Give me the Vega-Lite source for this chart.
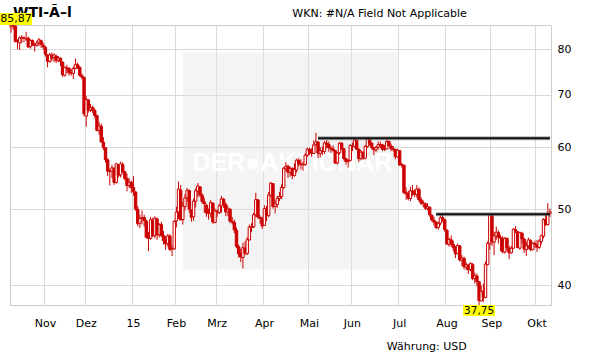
{
"$schema":"https://vega.github.io/schema/vega-lite/v6.json",
"width":541,"height":280,
"autosize":{"type":"none"},
"padding":{"left":10,"top":25,"right":60,"bottom":59},
"background":"white",
"config":{"font":"DejaVu Sans","view":{"stroke":"#cccccc","strokeWidth":1}},
"datasets":{
"p":[
{"d":"2014-10-10","o":85.35,"h":85.87,"l":83.95,"c":85.82},
{"d":"2014-10-13","o":85.70,"h":85.85,"l":84.70,"c":85.74},
{"d":"2014-10-14","o":85.60,"h":85.70,"l":81.57,"c":81.84},
{"d":"2014-10-15","o":81.80,"h":82.30,"l":80.01,"c":81.78},
{"d":"2014-10-16","o":81.50,"h":83.10,"l":79.78,"c":82.70},
{"d":"2014-10-17","o":82.60,"h":83.40,"l":81.40,"c":82.75},
{"d":"2014-10-20","o":82.70,"h":83.00,"l":81.60,"c":82.71},
{"d":"2014-10-21","o":82.50,"h":84.20,"l":81.90,"c":82.49},
{"d":"2014-10-22","o":82.60,"h":83.00,"l":80.30,"c":80.52},
{"d":"2014-10-23","o":80.60,"h":82.40,"l":80.10,"c":82.09},
{"d":"2014-10-24","o":82.00,"h":82.30,"l":80.70,"c":81.01},
{"d":"2014-10-27","o":80.90,"h":81.50,"l":79.44,"c":81.00},
{"d":"2014-10-28","o":80.90,"h":82.00,"l":80.60,"c":81.42},
{"d":"2014-10-29","o":81.50,"h":82.68,"l":80.70,"c":82.20},
{"d":"2014-10-30","o":82.00,"h":82.30,"l":80.30,"c":81.12},
{"d":"2014-10-31","o":80.90,"h":81.50,"l":79.90,"c":80.54},
{"d":"2014-11-03","o":80.40,"h":80.80,"l":78.30,"c":78.78},
{"d":"2014-11-04","o":78.60,"h":78.80,"l":75.84,"c":77.19},
{"d":"2014-11-05","o":77.20,"h":79.10,"l":76.80,"c":78.68},
{"d":"2014-11-06","o":78.60,"h":79.20,"l":77.20,"c":77.91},
{"d":"2014-11-07","o":78.00,"h":79.00,"l":77.00,"c":78.65},
{"d":"2014-11-10","o":78.40,"h":78.70,"l":76.80,"c":77.40},
{"d":"2014-11-11","o":77.40,"h":78.40,"l":77.00,"c":77.94},
{"d":"2014-11-12","o":77.90,"h":78.10,"l":76.10,"c":77.18},
{"d":"2014-11-13","o":77.00,"h":77.20,"l":73.75,"c":74.21},
{"d":"2014-11-14","o":74.10,"h":76.00,"l":73.80,"c":75.82},
{"d":"2014-11-17","o":75.70,"h":76.40,"l":74.60,"c":75.64},
{"d":"2014-11-18","o":75.60,"h":75.90,"l":74.00,"c":74.61},
{"d":"2014-11-19","o":74.60,"h":75.50,"l":74.00,"c":74.58},
{"d":"2014-11-20","o":74.50,"h":76.00,"l":73.25,"c":75.58},
{"d":"2014-11-21","o":75.60,"h":77.83,"l":75.40,"c":76.51},
{"d":"2014-11-24","o":76.40,"h":76.90,"l":75.50,"c":75.78},
{"d":"2014-11-25","o":75.80,"h":76.20,"l":73.80,"c":74.09},
{"d":"2014-11-26","o":74.00,"h":74.50,"l":73.25,"c":73.69},
{"d":"2014-11-28","o":73.60,"h":73.80,"l":65.69,"c":66.15},
{"d":"2014-12-01","o":65.70,"h":69.70,"l":63.72,"c":69.00},
{"d":"2014-12-02","o":68.90,"h":69.10,"l":66.40,"c":66.88},
{"d":"2014-12-03","o":66.90,"h":68.10,"l":66.50,"c":67.38},
{"d":"2014-12-04","o":67.40,"h":67.80,"l":66.30,"c":66.81},
{"d":"2014-12-05","o":66.80,"h":67.20,"l":65.30,"c":65.84},
{"d":"2014-12-08","o":65.80,"h":66.00,"l":62.82,"c":63.05},
{"d":"2014-12-09","o":63.00,"h":64.60,"l":62.20,"c":63.82},
{"d":"2014-12-10","o":63.80,"h":64.30,"l":60.78,"c":60.94},
{"d":"2014-12-11","o":60.90,"h":61.80,"l":59.50,"c":59.95},
{"d":"2014-12-12","o":59.90,"h":60.00,"l":57.34,"c":57.81},
{"d":"2014-12-15","o":57.80,"h":58.10,"l":55.12,"c":55.91},
{"d":"2014-12-16","o":55.90,"h":56.30,"l":53.60,"c":55.93},
{"d":"2014-12-17","o":55.90,"h":57.00,"l":54.80,"c":56.47},
{"d":"2014-12-18","o":56.40,"h":56.50,"l":53.70,"c":54.11},
{"d":"2014-12-19","o":54.10,"h":57.30,"l":53.90,"c":57.13},
{"d":"2014-12-22","o":56.90,"h":57.10,"l":54.90,"c":55.26},
{"d":"2014-12-23","o":55.30,"h":57.50,"l":54.90,"c":57.12},
{"d":"2014-12-24","o":57.00,"h":57.40,"l":55.60,"c":55.84},
{"d":"2014-12-26","o":55.80,"h":56.00,"l":54.40,"c":54.73},
{"d":"2014-12-29","o":54.70,"h":55.50,"l":52.70,"c":53.61},
{"d":"2014-12-30","o":53.60,"h":54.80,"l":53.20,"c":54.12},
{"d":"2014-12-31","o":54.10,"h":54.40,"l":52.44,"c":53.27},
{"d":"2015-01-02","o":53.30,"h":55.10,"l":52.03,"c":52.69},
{"d":"2015-01-05","o":52.60,"h":52.70,"l":49.77,"c":50.04},
{"d":"2015-01-06","o":50.00,"h":50.50,"l":47.55,"c":47.93},
{"d":"2015-01-07","o":48.00,"h":49.20,"l":47.30,"c":48.65},
{"d":"2015-01-08","o":48.70,"h":49.80,"l":47.80,"c":48.79},
{"d":"2015-01-09","o":48.80,"h":49.20,"l":47.50,"c":48.36},
{"d":"2015-01-12","o":48.30,"h":48.50,"l":45.87,"c":46.07},
{"d":"2015-01-13","o":46.10,"h":46.80,"l":44.20,"c":45.89},
{"d":"2015-01-14","o":45.90,"h":48.90,"l":45.70,"c":48.48},
{"d":"2015-01-15","o":48.40,"h":48.80,"l":46.10,"c":46.25},
{"d":"2015-01-16","o":46.30,"h":49.00,"l":45.90,"c":48.69},
{"d":"2015-01-20","o":48.60,"h":48.80,"l":45.70,"c":46.39},
{"d":"2015-01-21","o":46.40,"h":48.00,"l":46.00,"c":47.78},
{"d":"2015-01-22","o":47.80,"h":48.20,"l":46.10,"c":46.31},
{"d":"2015-01-23","o":46.30,"h":46.90,"l":45.10,"c":45.59},
{"d":"2015-01-26","o":45.60,"h":46.20,"l":44.40,"c":45.15},
{"d":"2015-01-27","o":45.20,"h":46.50,"l":44.80,"c":46.23},
{"d":"2015-01-28","o":46.20,"h":46.50,"l":44.20,"c":44.45},
{"d":"2015-01-29","o":44.50,"h":45.00,"l":43.58,"c":44.53},
{"d":"2015-01-30","o":44.50,"h":48.40,"l":44.40,"c":48.24},
{"d":"2015-02-02","o":48.30,"h":50.40,"l":47.40,"c":49.57},
{"d":"2015-02-03","o":49.60,"h":54.24,"l":48.60,"c":53.05},
{"d":"2015-02-04","o":52.90,"h":53.70,"l":48.40,"c":48.45},
{"d":"2015-02-05","o":48.50,"h":51.10,"l":47.80,"c":50.48},
{"d":"2015-02-06","o":50.40,"h":52.30,"l":49.80,"c":51.69},
{"d":"2015-02-09","o":51.70,"h":53.20,"l":51.10,"c":52.86},
{"d":"2015-02-10","o":52.80,"h":53.00,"l":49.50,"c":50.02},
{"d":"2015-02-11","o":49.90,"h":50.00,"l":48.20,"c":48.84},
{"d":"2015-02-12","o":48.90,"h":51.60,"l":48.30,"c":51.21},
{"d":"2015-02-13","o":51.20,"h":53.20,"l":50.30,"c":52.78},
{"d":"2015-02-17","o":52.70,"h":54.00,"l":51.80,"c":53.53},
{"d":"2015-02-18","o":53.40,"h":53.50,"l":51.80,"c":52.14},
{"d":"2015-02-19","o":52.10,"h":52.40,"l":50.80,"c":51.16},
{"d":"2015-02-20","o":51.10,"h":51.70,"l":49.50,"c":50.81},
{"d":"2015-02-23","o":50.60,"h":50.80,"l":48.90,"c":49.45},
{"d":"2015-02-24","o":49.40,"h":50.10,"l":48.50,"c":49.45},
{"d":"2015-02-25","o":49.40,"h":51.40,"l":48.80,"c":50.99},
{"d":"2015-02-26","o":50.90,"h":51.00,"l":47.90,"c":48.17},
{"d":"2015-02-27","o":48.10,"h":50.10,"l":48.00,"c":49.76},
{"d":"2015-03-02","o":49.70,"h":50.00,"l":48.90,"c":49.59},
{"d":"2015-03-03","o":49.50,"h":50.80,"l":49.30,"c":50.52},
{"d":"2015-03-04","o":50.50,"h":52.00,"l":49.50,"c":51.53},
{"d":"2015-03-05","o":51.50,"h":51.70,"l":50.20,"c":50.76},
{"d":"2015-03-06","o":50.70,"h":51.00,"l":49.00,"c":49.61},
{"d":"2015-03-09","o":49.60,"h":50.50,"l":49.00,"c":50.00},
{"d":"2015-03-10","o":50.00,"h":50.20,"l":48.00,"c":48.29},
{"d":"2015-03-11","o":48.20,"h":48.90,"l":47.80,"c":48.17},
{"d":"2015-03-12","o":48.10,"h":48.50,"l":46.60,"c":47.05},
{"d":"2015-03-13","o":47.00,"h":47.40,"l":44.60,"c":44.84},
{"d":"2015-03-16","o":44.80,"h":45.10,"l":43.40,"c":43.88},
{"d":"2015-03-17","o":43.90,"h":44.50,"l":42.80,"c":43.46},
{"d":"2015-03-18","o":43.40,"h":45.30,"l":42.03,"c":44.66},
{"d":"2015-03-19","o":44.60,"h":45.50,"l":43.70,"c":43.96},
{"d":"2015-03-20","o":43.90,"h":46.10,"l":43.70,"c":45.72},
{"d":"2015-03-23","o":45.70,"h":47.80,"l":45.60,"c":47.45},
{"d":"2015-03-24","o":47.40,"h":48.00,"l":46.80,"c":47.51},
{"d":"2015-03-25","o":47.50,"h":49.50,"l":47.30,"c":49.21},
{"d":"2015-03-26","o":49.20,"h":52.48,"l":48.90,"c":51.43},
{"d":"2015-03-27","o":51.40,"h":51.50,"l":48.60,"c":48.87},
{"d":"2015-03-30","o":48.80,"h":49.10,"l":47.90,"c":48.68},
{"d":"2015-03-31","o":48.60,"h":48.90,"l":47.20,"c":47.60},
{"d":"2015-04-01","o":47.70,"h":50.60,"l":47.60,"c":50.09},
{"d":"2015-04-02","o":50.00,"h":50.50,"l":48.30,"c":49.14},
{"d":"2015-04-06","o":49.10,"h":52.60,"l":48.80,"c":52.14},
{"d":"2015-04-07","o":52.10,"h":54.18,"l":51.80,"c":53.98},
{"d":"2015-04-08","o":53.90,"h":53.90,"l":50.10,"c":50.42},
{"d":"2015-04-09","o":50.40,"h":51.30,"l":49.40,"c":50.79},
{"d":"2015-04-10","o":50.70,"h":52.00,"l":50.20,"c":51.64},
{"d":"2015-04-13","o":51.60,"h":52.60,"l":51.20,"c":51.91},
{"d":"2015-04-14","o":51.90,"h":53.80,"l":51.50,"c":53.29},
{"d":"2015-04-15","o":53.30,"h":56.60,"l":53.10,"c":56.39},
{"d":"2015-04-16","o":56.30,"h":57.42,"l":55.90,"c":56.71},
{"d":"2015-04-17","o":56.70,"h":57.00,"l":54.80,"c":55.74},
{"d":"2015-04-20","o":55.70,"h":56.70,"l":55.00,"c":56.38},
{"d":"2015-04-21","o":56.40,"h":56.50,"l":54.60,"c":55.26},
{"d":"2015-04-22","o":55.20,"h":57.20,"l":55.00,"c":56.16},
{"d":"2015-04-23","o":56.10,"h":58.00,"l":55.70,"c":57.74},
{"d":"2015-04-24","o":57.70,"h":58.10,"l":56.70,"c":57.15},
{"d":"2015-04-27","o":57.10,"h":57.90,"l":56.20,"c":56.99},
{"d":"2015-04-28","o":57.00,"h":57.50,"l":56.00,"c":57.06},
{"d":"2015-04-29","o":57.00,"h":58.95,"l":56.80,"c":58.58},
{"d":"2015-04-30","o":58.60,"h":59.90,"l":58.30,"c":59.63},
{"d":"2015-05-01","o":59.60,"h":59.90,"l":58.60,"c":59.15},
{"d":"2015-05-04","o":59.10,"h":59.80,"l":58.30,"c":58.93},
{"d":"2015-05-05","o":58.90,"h":61.20,"l":58.80,"c":60.40},
{"d":"2015-05-06","o":60.40,"h":62.58,"l":60.30,"c":60.93},
{"d":"2015-05-07","o":60.90,"h":61.10,"l":58.10,"c":58.94},
{"d":"2015-05-08","o":58.90,"h":60.00,"l":58.20,"c":59.39},
{"d":"2015-05-11","o":59.30,"h":60.10,"l":58.60,"c":59.25},
{"d":"2015-05-12","o":59.20,"h":61.10,"l":58.80,"c":60.75},
{"d":"2015-05-13","o":60.70,"h":61.30,"l":59.80,"c":60.50},
{"d":"2015-05-14","o":60.50,"h":61.00,"l":59.20,"c":59.88},
{"d":"2015-05-15","o":59.80,"h":60.20,"l":59.00,"c":59.69},
{"d":"2015-05-18","o":59.70,"h":60.30,"l":59.20,"c":59.43},
{"d":"2015-05-19","o":59.40,"h":59.50,"l":57.10,"c":57.26},
{"d":"2015-05-20","o":57.30,"h":59.10,"l":57.00,"c":58.98},
{"d":"2015-05-21","o":59.00,"h":60.90,"l":58.70,"c":60.72},
{"d":"2015-05-22","o":60.70,"h":60.80,"l":59.50,"c":59.72},
{"d":"2015-05-26","o":59.70,"h":59.80,"l":57.70,"c":58.03},
{"d":"2015-05-27","o":58.00,"h":58.10,"l":57.00,"c":57.51},
{"d":"2015-05-28","o":57.50,"h":57.90,"l":56.51,"c":57.68},
{"d":"2015-05-29","o":57.70,"h":60.50,"l":57.60,"c":60.30},
{"d":"2015-06-01","o":60.20,"h":60.80,"l":59.30,"c":60.20},
{"d":"2015-06-02","o":60.10,"h":61.70,"l":59.90,"c":61.26},
{"d":"2015-06-03","o":61.20,"h":61.40,"l":59.50,"c":59.64},
{"d":"2015-06-04","o":59.60,"h":59.80,"l":57.43,"c":58.00},
{"d":"2015-06-05","o":58.00,"h":59.50,"l":57.70,"c":59.13},
{"d":"2015-06-08","o":59.10,"h":59.30,"l":57.80,"c":58.14},
{"d":"2015-06-09","o":58.10,"h":60.40,"l":57.90,"c":60.14},
{"d":"2015-06-10","o":60.10,"h":61.60,"l":59.90,"c":61.43},
{"d":"2015-06-11","o":61.40,"h":61.60,"l":60.30,"c":60.77},
{"d":"2015-06-12","o":60.70,"h":60.90,"l":59.60,"c":59.96},
{"d":"2015-06-15","o":59.90,"h":60.00,"l":58.60,"c":59.52},
{"d":"2015-06-16","o":59.50,"h":60.20,"l":59.10,"c":59.97},
{"d":"2015-06-17","o":60.00,"h":61.00,"l":59.60,"c":60.43},
{"d":"2015-06-18","o":60.40,"h":61.00,"l":59.80,"c":60.45},
{"d":"2015-06-19","o":60.40,"h":60.60,"l":59.30,"c":59.61},
{"d":"2015-06-22","o":59.60,"h":60.40,"l":59.30,"c":59.68},
{"d":"2015-06-23","o":59.70,"h":61.54,"l":59.60,"c":61.01},
{"d":"2015-06-24","o":61.00,"h":61.20,"l":60.10,"c":60.27},
{"d":"2015-06-25","o":60.20,"h":60.60,"l":59.30,"c":59.70},
{"d":"2015-06-26","o":59.70,"h":60.20,"l":59.20,"c":59.63},
{"d":"2015-06-29","o":59.60,"h":59.70,"l":57.90,"c":58.33},
{"d":"2015-06-30","o":58.30,"h":59.69,"l":58.20,"c":59.47},
{"d":"2015-07-01","o":59.40,"h":59.50,"l":56.80,"c":56.96},
{"d":"2015-07-02","o":57.00,"h":57.30,"l":56.50,"c":56.93},
{"d":"2015-07-06","o":56.90,"h":57.00,"l":52.25,"c":52.53},
{"d":"2015-07-07","o":52.50,"h":53.30,"l":51.40,"c":52.33},
{"d":"2015-07-08","o":52.30,"h":52.80,"l":51.30,"c":51.65},
{"d":"2015-07-09","o":51.60,"h":53.40,"l":51.20,"c":52.78},
{"d":"2015-07-10","o":52.70,"h":53.70,"l":52.00,"c":52.74},
{"d":"2015-07-13","o":52.70,"h":53.00,"l":51.80,"c":52.20},
{"d":"2015-07-14","o":52.20,"h":53.70,"l":51.70,"c":53.04},
{"d":"2015-07-15","o":53.00,"h":53.30,"l":51.10,"c":51.41},
{"d":"2015-07-16","o":51.40,"h":51.80,"l":50.60,"c":50.91},
{"d":"2015-07-17","o":50.90,"h":51.30,"l":50.30,"c":50.89},
{"d":"2015-07-20","o":50.80,"h":51.00,"l":49.90,"c":50.15},
{"d":"2015-07-21","o":50.10,"h":50.90,"l":49.80,"c":50.36},
{"d":"2015-07-22","o":50.30,"h":50.40,"l":48.90,"c":49.19},
{"d":"2015-07-23","o":49.10,"h":49.30,"l":48.20,"c":48.45},
{"d":"2015-07-24","o":48.40,"h":48.90,"l":47.70,"c":48.14},
{"d":"2015-07-27","o":48.10,"h":48.30,"l":47.20,"c":47.39},
{"d":"2015-07-28","o":47.40,"h":48.20,"l":47.10,"c":47.98},
{"d":"2015-07-29","o":48.00,"h":49.20,"l":47.70,"c":48.79},
{"d":"2015-07-30","o":48.80,"h":49.25,"l":48.20,"c":48.52},
{"d":"2015-07-31","o":48.50,"h":48.60,"l":46.80,"c":47.12},
{"d":"2015-08-03","o":47.00,"h":47.20,"l":45.00,"c":45.17},
{"d":"2015-08-04","o":45.10,"h":46.00,"l":44.80,"c":45.74},
{"d":"2015-08-05","o":45.70,"h":46.30,"l":44.80,"c":45.15},
{"d":"2015-08-06","o":45.10,"h":45.60,"l":44.20,"c":44.66},
{"d":"2015-08-07","o":44.60,"h":44.90,"l":43.33,"c":43.87},
{"d":"2015-08-10","o":43.90,"h":45.20,"l":43.80,"c":44.96},
{"d":"2015-08-11","o":44.90,"h":45.00,"l":42.90,"c":43.08},
{"d":"2015-08-12","o":43.00,"h":43.70,"l":42.31,"c":43.30},
{"d":"2015-08-13","o":43.30,"h":43.50,"l":41.90,"c":42.23},
{"d":"2015-08-14","o":42.20,"h":42.80,"l":41.80,"c":42.50},
{"d":"2015-08-17","o":42.40,"h":42.60,"l":41.35,"c":41.87},
{"d":"2015-08-18","o":41.90,"h":42.80,"l":41.70,"c":42.62},
{"d":"2015-08-19","o":42.50,"h":42.70,"l":40.60,"c":40.80},
{"d":"2015-08-20","o":40.80,"h":41.50,"l":40.20,"c":41.14},
{"d":"2015-08-21","o":41.10,"h":41.40,"l":39.86,"c":40.45},
{"d":"2015-08-24","o":40.40,"h":40.50,"l":37.75,"c":38.24},
{"d":"2015-08-25","o":38.20,"h":40.00,"l":38.20,"c":39.31},
{"d":"2015-08-26","o":39.30,"h":40.20,"l":38.10,"c":38.60},
{"d":"2015-08-27","o":38.60,"h":42.90,"l":38.50,"c":42.56},
{"d":"2015-08-28","o":42.50,"h":45.50,"l":42.40,"c":45.22},
{"d":"2015-08-31","o":45.20,"h":49.27,"l":44.40,"c":49.20},
{"d":"2015-09-01","o":49.10,"h":49.10,"l":44.90,"c":45.41},
{"d":"2015-09-02","o":45.40,"h":46.80,"l":43.70,"c":46.25},
{"d":"2015-09-03","o":46.20,"h":47.50,"l":45.70,"c":46.75},
{"d":"2015-09-04","o":46.70,"h":47.00,"l":45.20,"c":46.05},
{"d":"2015-09-08","o":46.00,"h":46.40,"l":44.20,"c":45.94},
{"d":"2015-09-09","o":45.90,"h":46.20,"l":43.90,"c":44.15},
{"d":"2015-09-10","o":44.10,"h":46.10,"l":43.90,"c":45.92},
{"d":"2015-09-11","o":45.90,"h":46.00,"l":44.20,"c":44.63},
{"d":"2015-09-14","o":44.60,"h":44.90,"l":43.20,"c":44.00},
{"d":"2015-09-15","o":44.00,"h":44.90,"l":43.90,"c":44.59},
{"d":"2015-09-16","o":44.60,"h":47.30,"l":44.50,"c":47.15},
{"d":"2015-09-17","o":47.10,"h":47.60,"l":46.60,"c":46.90},
{"d":"2015-09-18","o":46.80,"h":46.90,"l":44.60,"c":44.68},
{"d":"2015-09-21","o":44.60,"h":46.80,"l":44.40,"c":46.68},
{"d":"2015-09-22","o":46.60,"h":46.80,"l":45.20,"c":45.83},
{"d":"2015-09-23","o":45.80,"h":46.00,"l":44.00,"c":44.48},
{"d":"2015-09-24","o":44.40,"h":45.40,"l":43.60,"c":44.91},
{"d":"2015-09-25","o":44.90,"h":46.00,"l":44.50,"c":45.70},
{"d":"2015-09-28","o":45.60,"h":45.80,"l":44.20,"c":44.43},
{"d":"2015-09-29","o":44.40,"h":45.40,"l":44.30,"c":45.23},
{"d":"2015-09-30","o":45.20,"h":45.60,"l":44.60,"c":45.09},
{"d":"2015-10-01","o":45.00,"h":45.70,"l":44.10,"c":44.74},
{"d":"2015-10-02","o":44.70,"h":45.80,"l":44.50,"c":45.54},
{"d":"2015-10-05","o":45.50,"h":46.40,"l":45.10,"c":46.26},
{"d":"2015-10-06","o":46.20,"h":48.70,"l":45.90,"c":48.53},
{"d":"2015-10-07","o":48.50,"h":49.40,"l":47.60,"c":47.81},
{"d":"2015-10-08","o":47.80,"h":50.90,"l":47.70,"c":49.43},
{"d":"2015-10-09","o":49.40,"h":50.10,"l":48.90,"c":49.63}
],
"wm":[{"d":"2015-02-05","t":79.2,"b":41.87},{"d":"2015-06-30","t":79.2,"b":41.87}],
"wmt":[{"d":"2015-04-21","v":57.3,"t":"DER●AKTIONÄR"}],
"res":[{"d":"2015-05-07","v":61.57,"g":"a"},{"d":"2015-10-09","v":61.57,"g":"a"},{"d":"2015-07-27","v":49.28,"g":"b"},{"d":"2015-10-09","v":49.28,"g":"b"}],
"ttl":[{"d":"2014-10-10","v":85.87,"t":"WTI-Ã–l"}],
"wkn":[{"d":"2015-04-21","v":85.87,"t":"WKN: #N/A Field Not Applicable"}],
"cur":[{"d":"2015-06-23","v":37.75,"t":"Währung: USD"}],
"hi":[{"d":"2014-10-10","v":85.87,"t":"85,87"}],
"lo":[{"d":"2015-08-24","v":37.75,"t":"37,75"}]
},
"layer":[
{"data":{"name":"wm"},
 "mark":{"type":"area","color":"#e6e6e6","opacity":0.45},
 "encoding":{
  "x":{"field":"d","type":"ordinal","title":null,"scale":{"type":"band","paddingInner":0,"paddingOuter":0},
   "axis":{"values":["2014-11-03","2014-12-01","2015-01-02","2015-02-02","2015-03-02","2015-04-01","2015-05-01","2015-06-01","2015-07-01","2015-08-03","2015-09-01","2015-10-01"],
    "labelExpr":"['','15','Feb','Mrz','Apr','Mai','Jun','Jul','Aug','Sep','Okt','Nov','Dez'][toNumber(slice(datum.value,5,7))]",
    "bandPosition":0,"grid":true,"gridColor":"#d9d9d9","ticks":false,"domain":false,"labelAngle":0,
    "labelPadding":12,"labelFontSize":11,"labelColor":"#000000","labelFont":"DejaVu Sans","title":null}},
  "y":{"field":"t","type":"quantitative","title":null,"scale":{"type":"log","domain":[37.75,85.87],"nice":false,"zero":false},
   "axis":{"orient":"right","values":[40,50,60,70,80],"format":"d","grid":true,"gridColor":"#d9d9d9","ticks":false,"domain":false,
    "labelPadding":6,"labelFontSize":11,"labelColor":"#000000","labelFont":"DejaVu Sans","title":null}},
  "y2":{"field":"b"}}},
{"data":{"name":"wmt"},
 "mark":{"type":"text","font":"Liberation Sans","fontWeight":"bold","fontSize":25,"color":"#ffffff","align":"center","baseline":"middle"},
 "encoding":{"x":{"field":"d","type":"ordinal","title":null},"y":{"field":"v","type":"quantitative","title":null},"text":{"field":"t"}}},
{"data":{"name":"p"},
 "mark":{"type":"rule","color":"#cc0000","strokeWidth":1},
 "encoding":{"x":{"field":"d","type":"ordinal","title":null},"y":{"field":"l","type":"quantitative","title":null},"y2":{"field":"h"}}},
{"data":{"name":"p"},
 "mark":{"type":"bar","size":2.4,"stroke":"#cc0000","strokeWidth":1},
 "encoding":{"x":{"field":"d","type":"ordinal","title":null},"y":{"field":"o","type":"quantitative","title":null},"y2":{"field":"c"},
  "fill":{"condition":{"test":"datum.c > datum.o","value":"#ffffff"},"value":"#cc0000"}}},
{"data":{"name":"res"},
 "mark":{"type":"line","color":"#777777","strokeWidth":4,"opacity":0.6},
 "encoding":{"x":{"field":"d","type":"ordinal","title":null},"y":{"field":"v","type":"quantitative","title":null},"detail":{"field":"g"}}},
{"data":{"name":"res"},
 "mark":{"type":"line","color":"#111111","strokeWidth":2},
 "encoding":{"x":{"field":"d","type":"ordinal","title":null},"y":{"field":"v","type":"quantitative","title":null},"detail":{"field":"g"}}},
{"data":{"name":"ttl"},
 "mark":{"type":"text","fontWeight":"bold","fontSize":14,"color":"#000000","align":"left","baseline":"alphabetic","dx":2,"dy":-8},
 "encoding":{"x":{"field":"d","type":"ordinal","title":null},"y":{"field":"v","type":"quantitative","title":null},"text":{"field":"t"}}},
{"data":{"name":"wkn"},
 "mark":{"type":"text","fontSize":11,"color":"#000000","align":"left","baseline":"alphabetic","dy":-8},
 "encoding":{"x":{"field":"d","type":"ordinal","title":null},"y":{"field":"v","type":"quantitative","title":null},"text":{"field":"t"}}},
{"data":{"name":"cur"},
 "mark":{"type":"text","fontSize":11,"color":"#000000","align":"left","baseline":"alphabetic","dy":45},
 "encoding":{"x":{"field":"d","type":"ordinal","title":null},"y":{"field":"v","type":"quantitative","title":null},"text":{"field":"t"}}},
{"data":{"name":"hi"},
 "mark":{"type":"point","shape":"M-1,-0.375H1V0.375H-1Z","size":1024,"filled":true,"color":"#ffff00","opacity":1,"strokeWidth":0,"xOffset":5,"yOffset":-6},
 "encoding":{"x":{"field":"d","type":"ordinal","title":null},"y":{"field":"v","type":"quantitative","title":null}}},
{"data":{"name":"hi"},
 "mark":{"type":"text","fontSize":11,"color":"#000000","align":"center","baseline":"middle","dx":5,"dy":-6},
 "encoding":{"x":{"field":"d","type":"ordinal","title":null},"y":{"field":"v","type":"quantitative","title":null},"text":{"field":"t"}}},
{"data":{"name":"lo"},
 "mark":{"type":"point","shape":"M-1,-0.34H1V0.34H-1Z","size":1024,"filled":true,"color":"#ffff00","opacity":1,"strokeWidth":0,"yOffset":5.5},
 "encoding":{"x":{"field":"d","type":"ordinal","title":null},"y":{"field":"v","type":"quantitative","title":null}}},
{"data":{"name":"lo"},
 "mark":{"type":"text","fontSize":10.5,"color":"#000000","align":"center","baseline":"middle","dy":5.5},
 "encoding":{"x":{"field":"d","type":"ordinal","title":null},"y":{"field":"v","type":"quantitative","title":null},"text":{"field":"t"}}}
]
}
